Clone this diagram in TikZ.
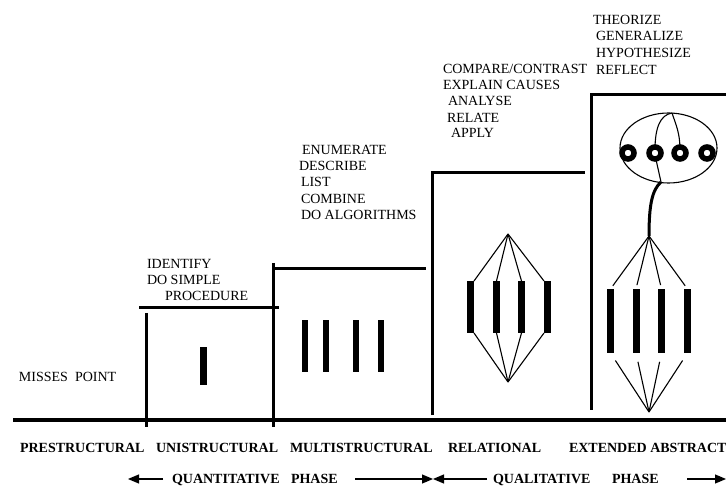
\documentclass[tikz,border=0pt]{standalone}
\usepackage{fontspec}
\setmainfont{Liberation Serif}
\usetikzlibrary{arrows.meta}

\begin{document}
\begin{tikzpicture}[x=1pt,y=-1pt,inner sep=0pt,outer sep=0pt,
	stage/.style={black,line width=3pt},
	link/.style={black,line width=1.1pt},
	bar/.style={rectangle,fill=black,minimum width=7pt},
	ring/.style={circle,draw=black,fill=white,line width=5.5pt,minimum size=12pt},
	verb/.style={anchor=base west,font=\fontsize{14}{16}\selectfont},
	level/.style={anchor=base west,font=\fontsize{14}{16}\selectfont\bfseries},
	phase/.style={black,line width=1.2pt,-{Triangle[length=11pt,width=9pt]}}]
	\useasboundingbox (0,0) rectangle (726,486);
	\fill[white] (0,0) rectangle (726,486);
	
	% staircase
	\draw[line width=3.3pt] (13,420) -- (726,420);
	\draw[stage] (146,313) -- (146,427);
	\draw[stage] (139,308) -- (279,308);
	\draw[stage] (273,263) -- (273,427);
	\draw[stage] (273,269) -- (426,269);
	\draw[stage] (432,415) -- (432,173) -- (585,173);
	\draw[stage] (591,410) -- (591,95) -- (726,95);
	
	% verbs
	\node[verb] at (19,382) (misses) {MISSES\ \ POINT};
	
	\node[verb] at (147,269) (identify) {IDENTIFY};
	\node[verb] at (147,285) (simple) {DO SIMPLE};
	\node[verb] at (165,301) (procedure) {PROCEDURE};
	
	\node[verb] at (302,155) (enumerate) {ENUMERATE};
	\node[verb] at (299,171) (describe) {DESCRIBE};
	\node[verb] at (301,187) (list) {LIST};
	\node[verb] at (301,204) (combine) {COMBINE};
	\node[verb] at (301,220) (algorithms) {DO ALGORITHMS};
	
	\node[verb] at (443,74) (compare) {COMPARE/CONTRAST};
	\node[verb] at (443,90) (explain) {EXPLAIN CAUSES};
	\node[verb] at (448,106) (analyse) {ANALYSE};
	\node[verb] at (447,123) (relate) {RELATE};
	\node[verb] at (451,138) (apply) {APPLY};
	
	\node[verb] at (593,25) (theorize) {THEORIZE};
	\node[verb] at (596,41) (generalize) {GENERALIZE};
	\node[verb] at (596,58) (hypothesize) {HYPOTHESIZE};
	\node[verb] at (596,75) (reflect) {REFLECT};
	
	% unistructural
	\node[bar,minimum height=38pt] at (203.5,366) (u1) {};
	
	% multistructural
	\node[bar,minimum width=6.5pt,minimum height=52pt] at (305,346) (m1) {};
	\node[bar,minimum width=6.5pt,minimum height=52pt] at (326,346) (m2) {};
	\node[bar,minimum width=6.5pt,minimum height=52pt] at (356,346) (m3) {};
	\node[bar,minimum width=6.5pt,minimum height=52pt] at (381,346) (m4) {};
	
	% relational
	\coordinate (rtop) at (508,234);
	\coordinate (rbot) at (508,382);
	\node[bar,minimum height=52pt] at (470.5,307) (r1) {};
	\node[bar,minimum height=52pt] at (496.5,307) (r2) {};
	\node[bar,minimum height=52pt] at (521.5,307) (r3) {};
	\node[bar,minimum height=52pt] at (547.5,307) (r4) {};
	
	\draw[link] (rtop)--(r1.north east);
	\draw[link] (rtop)--(r2.north);
	\draw[link] (rtop)--(r3.north);
	\draw[link] (rtop)--(r4.north west);
	\draw[link] (r1.south east)--(rbot);
	\draw[link] (r2.south)--(rbot);
	\draw[link] (r3.south)--(rbot);
	\draw[link] (r4.south west)--(rbot);
	
	% extended abstract
	\coordinate (etop) at (649,236);
	\coordinate (ebot) at (649,412);
	\node[bar,minimum height=64pt] at (610.5,321) (e1) {};
	\node[bar,minimum height=64pt] at (636,321) (e2) {};
	\node[bar,minimum height=64pt] at (661.5,321) (e3) {};
	\node[bar,minimum height=64pt] at (687.5,321) (e4) {};
	
	\draw[link,shorten >=4pt] (etop)--(e1.north);
	\draw[link,shorten >=4pt] (etop)--(e2.north);
	\draw[link,shorten >=4pt] (etop)--(e3.north);
	\draw[link,shorten >=4pt] (etop)--(e4.north);
	\draw[link,shorten <=9pt] (e1.south)--(ebot);
	\draw[link,shorten <=9pt] (e2.south)--(ebot);
	\draw[link,shorten <=9pt] (e3.south)--(ebot);
	\draw[link,shorten <=9pt] (e4.south)--(ebot);
	
	\draw[link] (668.5,148) ellipse [x radius=48.5pt, y radius=35pt];
	\coordinate (ehead) at (672,113);
	\coordinate (neck) at (661,182);
	\draw[link] (ehead) .. controls (660,115) and (655,128) .. (655,150);
	\draw[link] (ehead) .. controls (676,125) and (680,133) .. (680,150);
	\draw[link] (655,155) -- (neck);
	\draw[stage] (neck) .. controls (652,190) and (649,205) .. (etop);
	
	\node[ring] at (628,153) (c1) {};
	\node[ring] at (655,153) (c2) {};
	\node[ring] at (680,153) (c3) {};
	\node[ring] at (707,153) (c4) {};
	
	% levels
	\node[level] at (20,452) (pre) {PRESTRUCTURAL};
	\node[level] at (156,452) (uni) {UNISTRUCTURAL};
	\node[level] at (290,452) (multi) {MULTISTRUCTURAL};
	\node[level] at (448,452) (rel) {RELATIONAL};
	\node[level] at (569,452) (ext) {EXTENDED ABSTRACT};
	
	% phases
	\node[level] at (172,483) (quant) {QUANTITATIVE};
	\node[level] at (291,483) (quantphase) {PHASE};
	\node[level] at (493,483) (qual) {QUALITATIVE};
	\node[level] at (612,483) (qualphase) {PHASE};
	
	\coordinate (a1) at (163,479);
	\coordinate (t1) at (128,479);
	\coordinate (a2) at (355,479);
	\coordinate (t2) at (433,479);
	\coordinate (a3) at (487,479);
	\coordinate (a4) at (687,479);
	\coordinate (t4) at (726,479);
	
	\draw[phase] (a1)--(t1);
	\draw[phase] (a2)--(t2);
	\draw[phase] (a3)--(t2);
	\draw[phase] (a4)--(t4);
\end{tikzpicture}
\end{document}
